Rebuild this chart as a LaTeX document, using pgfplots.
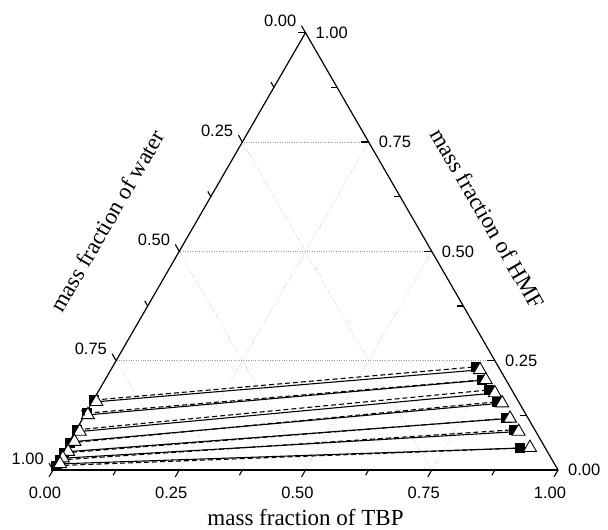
\documentclass[border=0pt]{standalone}
\usepackage{pgfplots}
\pgfplotsset{compat=1.18}
\usepgfplotslibrary{ternary}
\usetikzlibrary{calc}
\usepackage{fontspec}
\setmainfont{Liberation Serif}
\newfontfamily\arial{Liberation Sans}
\begin{document}
\begin{tikzpicture}
\begin{ternaryaxis}[
  width=505bp, height=437bp, scale only axis,
  xmin=0,xmax=1,ymin=0,ymax=1,zmin=0,zmax=1,
  xtick={0,0.25,0.5,0.75,1},
  ytick={0,0.25,0.5,0.75,1},
  ztick={0,0.25,0.5,0.75,1},
  xticklabels={{},{},{},{},{}},
  yticklabels={{},{},{},{},{}},
  zticklabels={{},{},{},{},{}},
  grid=major,
  major grid style={dotted, gray!80, line width=0.6pt},
  axis line style={line width=1.2pt},
  major tick length=0pt, minor tick length=0pt,
]
% x = HMF, y = water, z = TBP
% experimental tie lines (dashed, black squares)
\addplot3[black, dash pattern=on 5pt off 3pt, line width=1.1pt, mark=square*, mark size=4.5bp,
  mark options={solid, fill=black}, empty line=jump] table {
x y z
0.160 0.838 0.002
0.236 0.044 0.720

0.130 0.868 0.002
0.206 0.048 0.746

0.092 0.906 0.002
0.183 0.046 0.771

0.062 0.936 0.002
0.156 0.043 0.801

0.039 0.959 0.002
0.118 0.043 0.839

0.023 0.975 0.002
0.092 0.042 0.866

0.010 0.988 0.002
0.050 0.050 0.900
};
% calculated tie lines (solid, open triangles)
\addplot3[black, solid, line width=1.1pt, mark=triangle*, mark size=7.5bp,
  mark options={solid, fill=white, line width=0.9pt}, empty line=jump] table {
x y z
0.156 0.836 0.008
0.229 0.040 0.731

0.126 0.868 0.006
0.206 0.040 0.754

0.088 0.903 0.009
0.176 0.037 0.787

0.065 0.925 0.010
0.153 0.034 0.813

0.042 0.949 0.009
0.118 0.036 0.846

0.027 0.967 0.006
0.088 0.034 0.878

0.014 0.979 0.007
0.051 0.030 0.919
};
\pgfplotsinvokeforeach{0,...,8}{
  \coordinate (B#1) at (axis cs:0,{1-#1/8},{#1/8});
  \coordinate (L#1) at (axis cs:{1-#1/8},{#1/8},0);
  \coordinate (R#1) at (axis cs:{#1/8},0,{1-#1/8});
}
\coordinate (Lmid) at (axis cs:0.5,0.5,0);
\coordinate (Rmid) at (axis cs:0.5,0,0.5);
\coordinate (Bmid) at (axis cs:0,0.5,0.5);
\coordinate (BL) at (axis cs:0,1,0);
\end{ternaryaxis}
% ticks
\foreach \k in {0,2,4,6,8} {
  \draw[line width=1.1pt] (B\k) -- ++(-4bp,-6.93bp);
  \draw[line width=1.1pt] (L\k) -- ++(-4bp,6.93bp);
  \draw[line width=1.1pt] (R\k) -- ++(-8bp,0bp);
}
\foreach \k in {1,3,5,7} {
  \draw[line width=1.1pt] (B\k) -- ++(-3bp,-5.2bp);
  \draw[line width=1.1pt] (L\k) -- ++(-3bp,5.2bp);
  \draw[line width=1.1pt] (R\k) -- ++(-6bp,0bp);
}
% tick labels
\foreach \k/\lab in {0/0.00,2/0.25,4/0.50,6/0.75,8/1.00} {
  \node[font=\arial\fontsize{16.5bp}{18bp}\selectfont, inner sep=0pt, anchor=center]
    at ($(B\k)+(-8bp,-23bp)$) {\lab};
  \node[font=\arial\fontsize{16.5bp}{18bp}\selectfont, inner sep=0pt, anchor=east]
    at ($(L\k)+(-9bp,11.5bp)$) {\lab};
  \node[font=\arial\fontsize{16.5bp}{18bp}\selectfont, inner sep=0pt, anchor=west]
    at ($(R\k)+(10bp,0bp)$) {\lab};
}
% axis titles
\node[rotate=60, font=\fontsize{23bp}{25bp}\selectfont]
  at ($(Lmid)+(-72bp,30.5bp)$) {mass fraction of water};
\node[rotate=-60, font=\fontsize{23bp}{25bp}\selectfont]
  at ($(Rmid)+(56bp,33bp)$) {mass fraction of HMF};
\node[font=\fontsize{23bp}{25bp}\selectfont]
  at ($(Bmid)+(0,-48bp)$) {mass fraction of TBP};
\pgfresetboundingbox
\useasboundingbox ($(BL)+(-53bp,-60bp)$) rectangle ($(BL)+(555bp,470bp)$);
\end{tikzpicture}
\end{document}
